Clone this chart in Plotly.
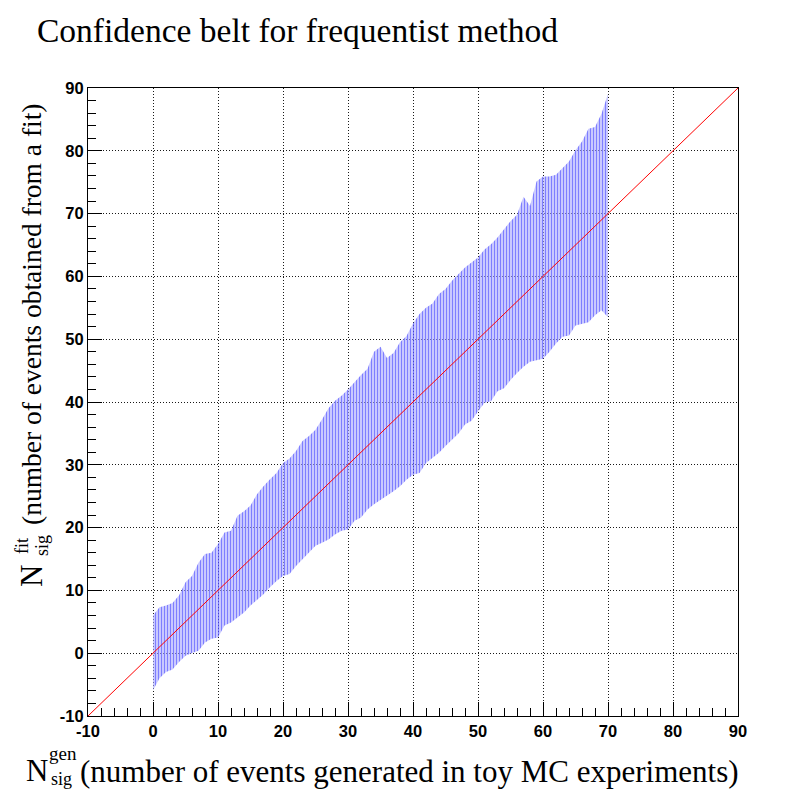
import plotly.graph_objects as go

# generated number of signal events (belt columns)
n_gen = list(range(0, 71))

# upper edge of the confidence belt
belt_upper = [6.0, 7.3, 7.6, 8.0, 9.2, 11.3, 12.3, 14.4, 15.8, 16.0,
              17.4, 19.2, 19.5, 21.9, 22.6, 23.5, 25.3, 26.6, 27.7, 28.7,
              30.3, 31.0, 32.2, 33.8, 34.6, 35.6, 37.2, 39.0, 40.2, 41.0,
              42.0, 43.2, 44.3, 45.3, 48.0, 48.8, 47.0, 47.8, 49.5, 50.5,
              52.5, 54.0, 55.0, 55.7, 57.2, 58.0, 59.3, 60.4, 61.4, 62.2,
              63.0, 64.3, 65.1, 66.2, 67.5, 68.8, 69.8, 72.7, 71.2, 75.1,
              75.9, 75.9, 76.2, 77.2, 78.3, 80.1, 81.5, 83.5, 83.8, 85.9,
              89.1]

# lower edge of the confidence belt
belt_lower = [-5.9, -4.0, -3.0, -2.6, -1.4, -0.4, 0.05, 0.4, 1.7, 2.3,
              2.5, 4.4, 4.9, 5.7, 6.5, 7.6, 8.5, 9.4, 10.5, 11.5,
              12.3, 12.6, 13.9, 15.0, 16.0, 17.1, 17.6, 18.1, 18.9, 19.5,
              19.7, 21.1, 21.6, 22.9, 23.7, 24.4, 25.0, 25.8, 26.6, 27.6,
              28.4, 28.7, 30.3, 31.1, 31.9, 33.0, 34.0, 35.0, 36.4, 37.0,
              38.5, 39.9, 40.1, 41.7, 42.2, 43.5, 44.6, 45.6, 46.4, 46.7,
              46.9, 48.0, 49.3, 50.4, 50.6, 52.2, 52.5, 52.7, 53.8, 54.6,
              53.5]

# diagonal N_fit = N_gen
diag_x = [-10, 90]
diag_y = [-10, 90]

tick_vals = [-10, 0, 10, 20, 30, 40, 50, 60, 70, 80, 90]
tick_text = [str(v) for v in tick_vals]

fig = go.Figure()

fig.add_trace(go.Scatter(
    x=n_gen, y=belt_lower, mode="lines", line=dict(width=0),
    hoverinfo="skip", showlegend=False))
fig.add_trace(go.Scatter(
    x=n_gen, y=belt_upper, mode="lines", line=dict(width=0),
    fill="tonexty",
    fillpattern=dict(shape="|", fgcolor="rgba(0,0,255,0.75)",
                     bgcolor="rgba(165,165,255,0.6)", size=3, solidity=0.34),
    hoverinfo="skip", showlegend=False))
fig.add_trace(go.Scatter(
    x=diag_x, y=diag_y, mode="lines", line=dict(color="red", width=1),
    showlegend=False))

# page offset (browser body margin) compensation
OFF = 8
PL, PR, PT, PB = 88 - OFF, 738 - OFF, 88 - OFF, 716 - OFF
W, H = 806, 791


def px(x):
    return (x - OFF - PL) / (PR - PL)


def py(y):
    return (PB - (y - OFF)) / (PB - PT)


axis_common = dict(
    range=[-10, 90], tickmode="array", tickvals=tick_vals, ticktext=tick_text,
    ticks="inside", ticklen=14, tickwidth=1, tickcolor="black",
    showline=True, linecolor="black", linewidth=1, mirror=True,
    showgrid=True, gridcolor="rgba(0,0,0,0.9)", gridwidth=1, griddash="1px,2px",
    zeroline=False, automargin=False,
    minor=dict(ticks="inside", ticklen=8, dtick=2, tick0=-10, tickcolor="black",
               showgrid=False),
    tickfont=dict(family="Liberation Sans", size=16.5, color="black", weight="bold"),
)

fig.update_xaxes(**axis_common)
fig.update_yaxes(**axis_common)

serif = "Liberation Serif"
ann = []
# title
ann.append(dict(text="Confidence belt for frequentist method", x=px(35), y=py(31),
                xanchor="left", yanchor="middle", font=dict(family=serif, size=33.5)))
# x-axis title
ann.append(dict(text="N", x=px(37), y=py(770), xanchor="center", yanchor="middle",
                font=dict(family=serif, size=31)))
ann.append(dict(text="gen", x=px(63), y=py(753), xanchor="center", yanchor="middle",
                font=dict(family=serif, size=19)))
ann.append(dict(text="sig", x=px(61), y=py(779), xanchor="center", yanchor="middle",
                font=dict(family=serif, size=18)))
ann.append(dict(text="(number of events generated in toy MC experiments)", x=px(78),
                y=py(771), xanchor="left", yanchor="middle",
                font=dict(family=serif, size=31)))
# y-axis title (rotated)
ann.append(dict(text="N", x=px(31), y=py(576), xanchor="center", yanchor="middle",
                textangle=-90, font=dict(family=serif, size=31)))
ann.append(dict(text="fit", x=px(22), y=py(546), xanchor="center", yanchor="middle",
                textangle=-90, font=dict(family=serif, size=18)))
ann.append(dict(text="sig", x=px(42), y=py(546), xanchor="center", yanchor="middle",
                textangle=-90, font=dict(family=serif, size=18)))
ann.append(dict(text="(number of events obtained from a fit)", x=px(31), y=py(314),
                xanchor="center", yanchor="middle", textangle=-90,
                font=dict(family=serif, size=27.5)))
for a in ann:
    a.update(xref="paper", yref="paper", showarrow=False)

fig.update_layout(
    width=W, height=H,
    margin=dict(l=PL, r=W - PR, t=PT, b=H - PB),
    paper_bgcolor="white", plot_bgcolor="white",
    annotations=ann, showlegend=False,
    font=dict(color="black"),
)

fig.write_html("out.html")
